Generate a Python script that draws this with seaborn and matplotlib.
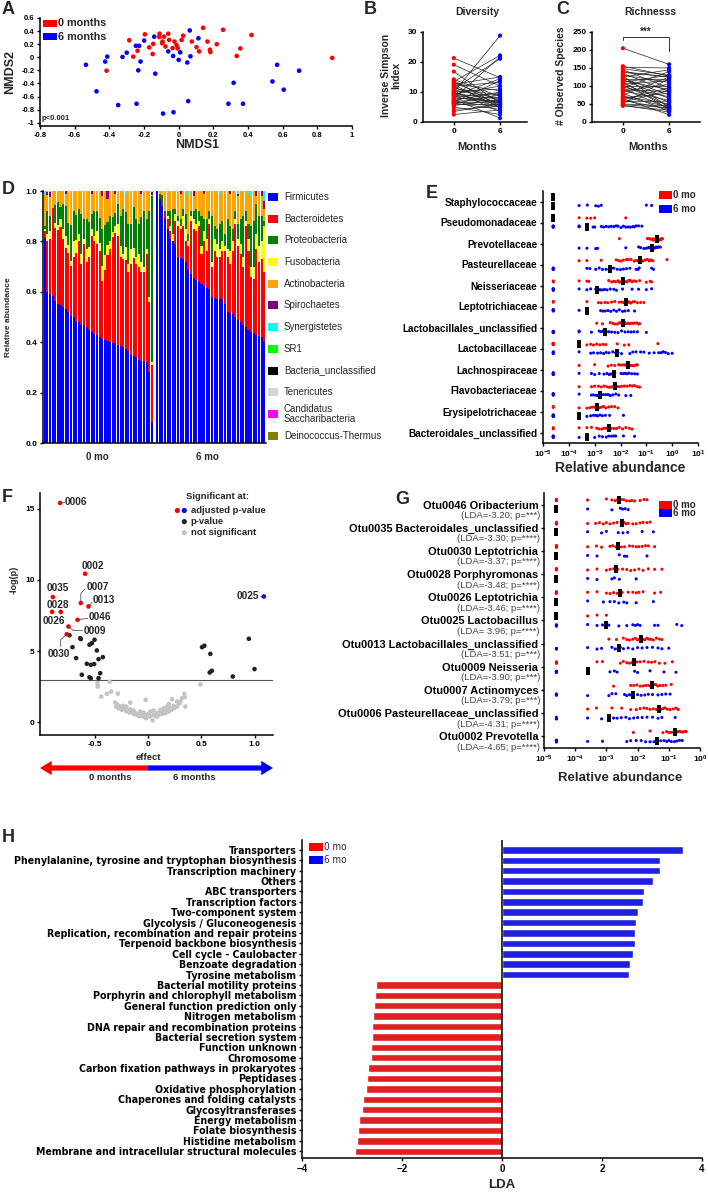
import numpy as np
import pandas as pd
import seaborn as sns
import matplotlib.pyplot as plt
from matplotlib.patches import Rectangle, FancyArrow
from matplotlib.ticker import NullLocator
from matplotlib import font_manager
import matplotlib.transforms as mtransforms

W, H = 708, 1195
RED, BLUE = '#FF0000', '#0000FF'

# ---------------- A: NMDS ordination ----------------
nmds1_0mo = [-0.285, -0.237, -0.262, -0.195, -0.17, -0.147, -0.15, -0.112, -0.11, -0.093,
             -0.084, -0.06, -0.076, -0.055, -0.035, -0.024, -0.012, -0.005, 0.026, 0.076,
             0.103, 0.118, 0.141, 0.166, 0.18, 0.183, 0.22, 0.256, 0.335, 0.356,
             0.42, -0.416, 0.886, -0.095, 0.017]
nmds2_0mo = [0.26, 0.10, 0.01, 0.35, 0.15, 0.205, 0.05, 0.31, 0.36, 0.24,
             0.315, 0.36, 0.165, 0.265, 0.14, 0.24, 0.185, 0.135, 0.33, 0.24,
             0.155, 0.09, 0.45, 0.24, 0.115, 0.08, 0.20, 0.42, 0.02, 0.135,
             0.34, -0.205, -0.01, 0.215, 0.265]
nmds1_6mo = [-0.535, -0.474, -0.424, -0.412, -0.349, -0.324, -0.30, -0.247, -0.228, -0.243,
             -0.233, -0.22, -0.199, -0.141, -0.135, -0.09, -0.06, -0.032, -0.03, 0.0,
             0.009, 0.05, 0.055, 0.064, 0.068, 0.114, 0.287, 0.317, 0.371, 0.541,
             0.568, 0.606, 0.695]
nmds2_6mo = [-0.115, -0.52, -0.065, 0.01, -0.73, 0.005, 0.07, 0.175, 0.175, -0.71,
             -0.2, -0.065, 0.255, 0.315, -0.25, -0.86, 0.09, 0.02, -0.84, -0.04,
             0.075, -0.08, -0.67, 0.41, 0.015, 0.29, -0.71, -0.39, -0.71, -0.37,
             -0.115, -0.495, -0.205]

# ---------------- B / C: paired alpha diversity ----------------
invsimpson_0mo = [21.3, 19.1, 16.8, 14.2, 13.8, 13.5, 13.1, 12.8, 12.4, 12.0, 11.6, 11.2, 11.0, 10.7,
                  10.4, 10.1, 9.9, 9.7, 9.5, 9.3, 9.1, 8.9, 8.6, 8.4, 8.1, 7.9, 7.7, 7.5, 7.2, 7.0,
                  6.8, 6.6, 6.5, 6.3, 6.1, 5.9, 5.5, 5.0, 4.2, 3.5, 2.5, 12.6]
invsimpson_6mo = [14.8, 12.0, 6.2, 8.5, 5.4, 22.2, 7.0, 10.4, 4.8, 13.2, 6.0, 9.0, 21.1, 8.0,
                  3.4, 11.0, 28.8, 5.6, 7.6, 12.0, 6.4, 14.4, 5.2, 9.5, 6.8, 21.7, 8.2, 1.3, 10.0, 7.2,
                  5.0, 13.8, 6.6, 4.2, 9.2, 5.8, 7.4, 2.5, 5.2, 6.0, 4.0, 15.0]
richness_0mo = [205, 155, 152, 148, 145, 140, 135, 130, 128, 125, 122, 120, 118, 115, 112, 110, 107,
                105, 102, 100, 97, 95, 92, 90, 87, 85, 80, 75, 72, 70, 67, 65, 62, 60, 57, 55, 52,
                50, 48, 46, 45, 138]
richness_6mo = [160, 128, 150, 130, 95, 125, 85, 110, 40, 145, 75, 120, 65, 90, 35, 130, 55, 115,
                45, 100, 70, 140, 38, 85, 60, 105, 30, 125, 50, 42, 80, 20, 95, 36, 58, 88, 120,
                45, 40, 28, 33, 125]

# ---------------- D: phylum composition per sample ----------------
phyla = ['Firmicutes', 'Bacteroidetes', 'Proteobacteria', 'Fusobacteria', 'Actinobacteria',
         'Spirochaetes', 'Synergistetes', 'SR1', 'Bacteria_unclassified', 'Tenericutes',
         'Candidatus\nSaccharibacteria', 'Deinococcus-Thermus']
phylum_colors = ['#0000FF', '#FF0000', '#008000', '#FFFF00', '#FFA500', '#800080',
                 '#00FFFF', '#00FF00', '#000000', '#D3D3D3', '#FF00FF', '#808000']
firm_0mo = [0.815, 0.60, 0.59, 0.583, 0.565, 0.55, 0.548, 0.54, 0.532, 0.52, 0.504, 0.50, 0.484, 0.48,
            0.47, 0.468, 0.46, 0.448, 0.44, 0.432, 0.43, 0.422, 0.411, 0.407, 0.406, 0.40, 0.398,
            0.397, 0.39, 0.385, 0.38, 0.372, 0.365, 0.35, 0.345, 0.34, 0.33, 0.327, 0.325, 0.32,
            0.28, 0.085]
bact_0mo = [0.025, 0.20, 0.22, 0.35, 0.29, 0.295, 0.31, 0.27, 0.24, 0.235, 0.20, 0.24, 0.27, 0.32,
            0.24, 0.32, 0.26, 0.29, 0.38, 0.37, 0.36, 0.34, 0.23, 0.28, 0.34, 0.37, 0.42, 0.435,
            0.43, 0.355, 0.35, 0.355, 0.315, 0.36, 0.39, 0.37, 0.37, 0.35, 0.355, 0.43, 0.28, 0.225]
fuso_0mo = [0.01, 0.03, 0.03, 0.0, 0.02, 0.02, 0.03, 0.04, 0.05, 0.03, 0.02, 0.06, 0.05, 0.03, 0.04,
            0.02, 0.05, 0.04, 0.03, 0.02, 0.05, 0.03, 0.06, 0.06, 0.04, 0.03, 0.02, 0.03, 0.05, 0.04,
            0.02, 0.05, 0.03, 0.06, 0.04, 0.03, 0.05, 0.04, 0.02, 0.02, 0.02, 0.01]
proteo_0mo = [0.01, 0.09, 0.06, 0.0, 0.07, 0.09, 0.05, 0.10, 0.12, 0.09, 0.14, 0.12, 0.10, 0.10,
              0.16, 0.08, 0.12, 0.10, 0.06, 0.10, 0.08, 0.10, 0.15, 0.12, 0.09, 0.10, 0.06, 0.05,
              0.08, 0.12, 0.18, 0.14, 0.16, 0.10, 0.16, 0.15, 0.12, 0.18, 0.22, 0.12, 0.34, 0.66]
spiro_0mo = [0, 0.01, 0.02, 0, 0, 0, 0, 0, 0.01, 0, 0, 0, 0, 0, 0, 0, 0, 0, 0.01, 0, 0, 0, 0.02, 0,
             0.03, 0, 0, 0.01, 0, 0, 0, 0, 0, 0, 0, 0, 0, 0.01, 0, 0, 0, 0.01]
synerg_0mo = [0.01, 0.005, 0.005, 0, 0, 0, 0, 0, 0, 0, 0, 0, 0, 0, 0, 0, 0, 0, 0, 0, 0, 0, 0, 0, 0,
              0, 0, 0, 0, 0, 0, 0.01, 0, 0, 0, 0, 0, 0, 0, 0, 0, 0.005]
firm_6mo = [1.0, 0.97, 0.94, 0.89, 0.85, 0.81, 0.80, 0.79, 0.74, 0.735, 0.73, 0.72, 0.69, 0.67, 0.655,
            0.645, 0.64, 0.63, 0.625, 0.615, 0.61, 0.58, 0.575, 0.57, 0.57, 0.57, 0.55, 0.52, 0.515,
            0.51, 0.50, 0.49, 0.48, 0.47, 0.46, 0.45, 0.44, 0.435, 0.43, 0.425, 0.42, 0.40]
bact_6mo = [0.0, 0.005, 0.005, 0.02, 0.04, 0.03, 0.0, 0.09, 0.12, 0.115, 0.13, 0.08, 0.09, 0.21,
            0.195, 0.195, 0.22, 0.12, 0.175, 0.145, 0.26, 0.12, 0.185, 0.17, 0.17, 0.19, 0.21, 0.22,
            0.195, 0.25, 0.37, 0.29, 0.27, 0.23, 0.40, 0.31, 0.22, 0.215, 0.34, 0.295, 0.31, 0.28]
fuso_6mo = [0, 0, 0, 0, 0.01, 0.02, 0.03, 0.03, 0.02, 0.01, 0.04, 0.05, 0.02, 0.02, 0.04, 0.03, 0.02,
            0.03, 0.04, 0.05, 0.02, 0.02, 0.05, 0.05, 0.03, 0.04, 0.02, 0.03, 0.05, 0.04, 0.02, 0.03,
            0.04, 0.04, 0.02, 0.05, 0.04, 0.05, 0.06, 0.06, 0.07, 0.18]
proteo_6mo = [0, 0.015, 0.04, 0.01, 0.02, 0.06, 0.10, 0.02, 0.02, 0.03, 0.03, 0.06, 0.03, 0.02, 0.03,
              0.06, 0.04, 0.12, 0.05, 0.08, 0.03, 0.18, 0.05, 0.06, 0.10, 0.08, 0.05, 0.12, 0.10,
              0.05, 0.03, 0.06, 0.10, 0.16, 0.04, 0.06, 0.16, 0.18, 0.12, 0.12, 0.10, 0.02]
spiro_6mo = [0, 0, 0, 0, 0, 0, 0, 0, 0, 0.01, 0, 0, 0, 0, 0.02, 0, 0, 0, 0.01, 0, 0, 0, 0, 0, 0, 0,
             0, 0, 0.01, 0, 0, 0.01, 0, 0, 0, 0, 0, 0, 0.02, 0, 0.02, 0.03]
synerg_6mo = [0, 0, 0, 0, 0, 0, 0, 0, 0, 0, 0, 0, 0.02, 0, 0, 0, 0, 0, 0, 0, 0, 0, 0, 0, 0.01, 0, 0,
              0, 0, 0, 0, 0.01, 0, 0, 0, 0.01, 0.02, 0, 0, 0, 0, 0.04]

# ---------------- E: family abundance (0 = below detection) ----------------
fam_taxa = ['Staphylococcaceae', 'Pseudomonadaceae', 'Prevotellaceae', 'Pasteurellaceae',
            'Neisseriaceae', 'Leptotrichiaceae', 'Lactobacillales_unclassified', 'Lactobacillaceae',
            'Lachnospiraceae', 'Flavobacteriaceae', 'Erysipelotrichaceae', 'Bacteroidales_unclassified']
fam_0mo = [
    [0] * 12,
    [0] * 10 + [2.5e-4, 5e-4, 7e-4, 1.0e-3, 1.6e-2],
    [9e-3, 0.11, 0.13, 0.15, 0.17, 0.19, 0.2, 0.21, 0.22, 0.23, 0.24, 0.25, 0.26, 0.27, 0.28, 0.29,
     0.3, 0.32, 0.34, 0.36, 0.38, 0.4, 0.42],
    [2.5e-4, 5e-4, 1.8e-3, 6.8e-3, 8.5e-3, 1.05e-2, 1.3e-2, 1.7e-2, 2e-2, 2.6e-2, 3.4e-2, 4e-2,
     4.8e-2, 5.5e-2, 6e-2, 6.5e-2, 7.5e-2, 9e-2, 0.11, 0.13, 0.15, 0.18, 0.63],
    [0] * 2 + [2.5e-4, 5e-4, 6e-4, 3.5e-3, 4.5e-3, 5.5e-3, 6.5e-3, 8e-3, 9e-3, 1.05e-2, 1.2e-2, 1.4e-2,
               1.6e-2, 1.8e-2, 2.1e-2, 2.4e-2, 2.8e-2, 3.3e-2, 4e-2, 5.5e-2, 0.1, 0.14, 0.16],
    [0] * 2 + [5e-4, 1.4e-3, 1.8e-3, 2.5e-3, 3.2e-3, 4.5e-3, 6e-3, 9e-3, 1.1e-2, 1.3e-2, 1.5e-2,
               1.6e-2, 1.8e-2, 2e-2, 2.2e-2, 2.5e-2, 3e-2, 3.5e-2, 4.5e-2, 6e-2, 8e-2],
    [1.2e-3, 2e-3, 4e-3, 5e-3, 6e-3, 7.5e-3, 9e-3, 1e-2, 1.15e-2, 1.3e-2, 1.45e-2, 1.6e-2, 1.9e-2,
     2.2e-2, 2.6e-2, 3e-2, 3.5e-2, 4.2e-2, 5e-2, 5.5e-2],
    [0] * 8 + [2.5e-4] * 4 + [5e-4, 7e-4, 9e-4, 1.2e-3, 1.6e-3, 2.1e-3, 2.7e-3, 7.5e-3, 1.4e-2,
                              2.1e-2, 0.28],
    [2.5e-4, 1e-3, 3.3e-3, 4.4e-3, 6e-3, 8.5e-3, 1.05e-2, 1.3e-2, 1.5e-2, 1.7e-2, 1.9e-2, 2.1e-2,
     2.4e-2, 2.8e-2, 3.3e-2, 4e-2, 4.5e-2],
    [2.5e-4, 7.5e-4, 1e-3, 1.4e-3, 1.8e-3, 2.3e-3, 3e-3, 3.6e-3, 4.4e-3, 5.2e-3, 6.4e-3, 7.5e-3, 9e-3,
     1.1e-2, 1.4e-2, 1.8e-2, 2.3e-2, 2.9e-2, 3.5e-2, 4.5e-2, 5.5e-2],
    [0] * 2 + [2.5e-4, 5e-4, 6.5e-4, 8e-4, 1e-3, 1.15e-3, 1.3e-3, 1.5e-3, 1.8e-3, 2.2e-3, 2.7e-3,
               3.5e-3, 4.5e-3, 6e-3, 8e-3],
    [0] * 2 + [2.5e-4, 5e-4, 7.5e-4, 1.2e-3, 1.5e-3, 1.9e-3, 2.3e-3, 2.8e-3, 3.6e-3, 4.4e-3, 5.5e-3,
               7e-3, 9e-3, 1.2e-2, 1.6e-2, 2.2e-2, 2.8e-2],
]
fam_6mo = [
    [0] * 10 + [2.5e-4, 5.2e-4, 1.1e-3, 1.4e-3, 1.8e-3, 0.10, 0.16],
    [0] * 8 + [2.5e-4] * 3 + [5e-4] * 3 + [8.7e-4, 1e-3, 1.8e-3, 2.2e-3, 2.8e-3, 3.5e-3, 4.4e-3, 5.5e-3,
                                          6.8e-3, 8e-3, 1.05e-2, 1.3e-2, 1.6e-2, 2e-2, 2.4e-2, 3e-2,
                                          3.4e-2, 4e-2, 5e-2, 6.7e-2],
    [2.5e-4, 5e-4, 1.1e-3, 1.3e-3, 1.6e-2, 5e-2, 6e-2, 8e-2, 0.1, 0.12, 0.13, 0.15, 0.16, 0.17, 0.19,
     0.21, 0.24, 0.27, 0.3, 0.35],
    [0] * 6 + [5e-4, 6.5e-4, 1.1e-3, 1.5e-3, 2e-3, 2.7e-3, 3.5e-3, 4e-3, 4.5e-3, 5.5e-3, 7.5e-3, 1e-2,
               1.3e-2, 1.7e-2, 2.3e-2, 4e-2, 4.8e-2, 5.3e-2, 0.16, 0.19],
    [0] * 6 + [2.5e-4, 5e-4, 7e-4, 1.1e-3, 1.3e-3, 1.5e-3, 1.7e-3, 2e-3, 2.4e-3, 3e-3, 4e-3, 5.5e-3,
               7e-3, 1.2e-2, 2.8e-2, 5e-2, 0.1, 0.16],
    [0] * 6 + [2.5e-4, 5e-4, 5e-4, 1.7e-3, 2.1e-3, 2.6e-3, 3.3e-3, 4.2e-3, 5.5e-3, 7e-3, 9e-3, 1.2e-2,
               1.5e-2, 2e-2, 3.5e-2],
    [0] * 6 + [2.5e-4, 2.5e-4, 7.5e-4, 1.5e-3, 1.8e-3, 2.1e-3, 2.4e-3, 2.8e-3, 3.5e-3, 4.5e-3, 6e-3,
               8e-3, 1.1e-2, 1.5e-2, 2e-2, 2.6e-2, 3.3e-2, 4.5e-2, 0.1],
    [0] * 5 + [2.5e-4, 7e-4, 9e-4, 1.3e-3, 1.7e-3, 2.2e-3, 2.8e-3, 3.6e-3, 5e-3, 6.5e-3, 8e-3, 1.1e-2,
               2.3e-2, 3e-2, 4e-2, 6e-2, 8e-2, 0.13, 0.2, 0.3, 0.38, 0.45, 0.55, 0.7, 1.0],
    [0] * 6 + [2.5e-4, 7.5e-4, 1e-3, 1.5e-3, 2.3e-3, 3e-3, 3.6e-3, 4.2e-3, 5e-3, 6e-3, 1.05e-2, 1.3e-2,
               1.5e-2, 1.8e-2, 2.1e-2, 2.7e-2, 3.5e-2, 4.5e-2],
    [0] * 6 + [2.5e-4, 7.5e-4, 9e-4, 1.1e-3, 1.3e-3, 1.55e-3, 1.8e-3, 2.2e-3, 2.7e-3, 3.3e-3, 4e-3,
               5e-3, 6.5e-3, 8.5e-3, 1.6e-2, 2.5e-2],
    [0] * 8 + [2.5e-4] * 4 + [5e-4, 7e-4, 9e-4, 1.1e-3, 1.3e-3, 1.6e-3, 2e-3, 2.6e-3, 3.8e-3, 1.3e-2],
    [0] * 6 + [2.5e-4, 5e-4, 5e-4, 1e-3, 1.5e-3, 2e-3, 2.8e-3, 3.5e-3, 4.5e-3, 5.5e-3, 6.5e-3, 1.3e-2,
               3.5e-2],
]
fam_median_0mo = [0, 0, 0.25, 0.059, 0.0123, 0.0166, 0.0123, 2.5e-4, 0.019, 6.4e-3, 1.26e-3, 3.6e-3]
fam_median_6mo = [0, 5e-4, 0.16, 3.8e-3, 1.26e-3, 5e-4, 2.5e-3, 7.4e-3, 5.4e-3, 1.55e-3, 2.5e-4, 5e-4]

# ---------------- F: volcano plot ----------------
adj_otus_0mo = ['0006', '0002', '0035', '0007', '0013', '0028', '0026', '0046', '0009', '0030']
adj_effect_0mo = [-0.822, -0.588, -0.89, -0.628, -0.556, -0.816, -0.897, -0.659, -0.744, -0.76]
adj_logp_0mo = [15.4, 10.43, 8.79, 8.37, 8.13, 7.75, 7.75, 7.19, 6.72, 6.18]
adj_otus_6mo = ['0025']
adj_effect_6mo = [1.084]
adj_logp_6mo = [8.83]
p_effect = [-0.634, -0.628, -0.734, -0.706, -0.672, -0.619, -0.572, -0.534, -0.503, -0.547, -0.525,
            -0.5, -0.478, -0.4625, -0.422, -0.447, -0.547, -0.534, -0.4625, 0.506, 0.528, 0.584,
            0.578, 0.597, 0.794, 0.944, 0.997]
p_logp = [5.90, 5.84, 6.11, 5.27, 4.50, 3.33, 4.10, 4.03, 4.08, 5.44, 5.55, 5.79, 5.04, 4.43, 4.57,
          3.44, 3.16, 3.09, 3.09, 5.27, 5.37, 4.8, 3.49, 3.61, 3.21, 5.86, 3.73]
ns_effect = [-0.472, -0.47, -0.359, -0.4375, -0.384, -0.344, -0.281, -0.306, -0.284, -0.259, -0.219,
             -0.19, -0.166, -0.15, -0.119, -0.0875, -0.056, -0.022, -0.025, 0.006, 0.044, 0.053,
             0.084, 0.116, 0.147, 0.178, 0.209, 0.225, 0.241, 0.272, 0.297, 0.319, 0.341, 0.344,
             0.35, 0.491, -0.244, -0.203, -0.172, -0.134, -0.103, -0.072, -0.041, -0.009, 0.022,
             0.069, 0.1, 0.131, 0.1625, 0.194, 0.219, 0.247, -0.234, -0.203, -0.166, -0.134, -0.072,
             -0.041, 0.022, 0.053, 0.116, 0.147, 0.178, 0.197, -0.297, -0.272, -0.084, -0.016, 0.084,
             0.272, 0.303]
ns_logp = [2.74, 2.5, 2.84, 1.80, 1.99, 2.15, 2.01, 1.38, 1.22, 1.10, 0.98, 0.82, 1.38, 0.75, 0.63,
           0.58, 0.56, 1.57, 0.51, 0.58, 0.12, 0.51, 0.63, 0.68, 0.75, 0.87, 0.98, 1.62, 1.15, 1.45,
           1.33, 1.69, 1.99, 1.76, 1.10, 2.65, 0.87, 0.75, 0.68, 0.58, 0.51, 0.44, 0.40, 0.44, 0.40,
           0.44, 0.51, 0.58, 0.63, 0.75, 0.87, 0.98, 1.15, 1.10, 0.91, 0.82, 0.75, 0.68, 0.75, 0.82,
           0.87, 0.98, 1.10, 1.29, 1.10, 0.96, 0.44, 0.28, 0.40, 1.10, 1.45]
p_threshold = 2.95

# ---------------- G: OTU abundance ----------------
otu_taxa = ['Otu0046 Oribacterium', 'Otu0035 Bacteroidales_unclassified', 'Otu0030 Leptotrichia',
            'Otu0028 Porphyromonas', 'Otu0026 Leptotrichia', 'Otu0025 Lactobacillus',
            'Otu0013 Lactobacillales_unclassified', 'Otu0009 Neisseria', 'Otu0007 Actinomyces',
            'Otu0006 Pasteurellaceae_unclassified', 'Otu0002 Prevotella']
otu_lda = [-3.20, -3.30, -3.37, -3.48, -3.46, 3.96, -3.51, -3.90, -3.79, -4.31, -4.65]
otu_pstars = ['***', '****', '****', '****', '****', '****', '***', '***', '***', '****', '****']
otu_0mo = [
    [0] * 6 + [2.5e-4, 1e-3, 1.5e-3, 1.9e-3, 2.2e-3, 2.6e-3, 3e-3, 3.6e-3, 4.4e-3, 5.5e-3, 6.5e-3, 8e-3,
               1.2e-2, 1.6e-2, 2e-2],
    [0] * 6 + [2.5e-4, 4.5e-4, 6e-4, 8e-4, 1e-3, 1.3e-3, 1.7e-3, 2.2e-3, 3.1e-3, 3.6e-3, 4.2e-3, 5e-3,
               7e-3, 9e-3, 1.2e-2, 1.5e-2, 2e-2, 2.5e-2],
    [0] * 6 + [2.5e-4, 4.8e-4, 7e-4, 1.3e-3, 1.6e-3, 2e-3, 2.4e-3, 3e-3, 3.8e-3, 5.5e-3, 7e-3, 9e-3,
               1.1e-2, 1.4e-2, 1.8e-2, 2.2e-2, 3.5e-2],
    [0] * 6 + [2.5e-4, 5e-4, 1e-3, 1.3e-3, 1.7e-3, 2e-3, 2.3e-3, 3.3e-3, 4.5e-3, 6e-3, 8e-3, 1.1e-2,
               1.5e-2, 2.2e-2, 3.5e-2, 6e-2],
    [0] * 6 + [2.5e-4, 5e-4, 1e-3, 1.3e-3, 1.7e-3, 2.2e-3, 2.8e-3, 3.2e-3, 5e-3, 7e-3, 9e-3, 1.1e-2,
               1.5e-2, 3.5e-2, 5.5e-2],
    [0] * 12 + [2.5e-4, 5e-4, 1e-3],
    [1.2e-3, 2.1e-3, 3.5e-3, 4.5e-3, 5.5e-3, 7e-3, 8.5e-3, 1e-2, 1.15e-2, 1.3e-2, 1.5e-2, 1.7e-2, 2e-2,
     2.3e-2, 2.7e-2, 3.2e-2, 4e-2, 5e-2, 6e-2],
    [0] * 4 + [5e-4, 7.5e-4, 2.8e-3, 3.5e-3, 4.5e-3, 5.5e-3, 6.5e-3, 7.9e-3, 9.5e-3, 1.2e-2, 1.6e-2,
               2.2e-2, 2.8e-2, 3.6e-2, 5e-2, 7.5e-2, 0.13],
    [1.7e-3, 6e-3, 7.5e-3, 9.5e-3, 1.2e-2, 1.5e-2, 1.8e-2, 2.2e-2, 2.6e-2, 3e-2, 3.3e-2, 3.8e-2, 4.4e-2,
     5.2e-2, 6.5e-2, 8e-2, 0.12],
    [2.5e-4, 4.8e-4, 1.5e-3, 3.1e-3, 6e-3, 9e-3, 1.2e-2, 1.6e-2, 2e-2, 2.5e-2, 3.2e-2, 4e-2, 4.6e-2,
     5e-2, 5.5e-2, 6.5e-2, 7.5e-2, 9e-2, 0.11, 0.14, 0.17, 0.2],
    [7.3e-3, 2.5e-2, 6.5e-2, 8.5e-2, 0.1, 0.12, 0.14, 0.16, 0.18, 0.2, 0.22, 0.25, 0.28, 0.32, 0.36],
]
otu_6mo = [
    [0] * 10 + [2.5e-4, 1.5e-3, 2.8e-3, 3.3e-3, 4e-3, 5e-3],
    [0] * 10 + [2.5e-4, 7e-4, 1e-3, 2.4e-3, 3.4e-3, 4.8e-3, 1.4e-2, 3.2e-2],
    [0] * 10 + [2.5e-4, 5e-4, 2.6e-3, 3.8e-3, 4.5e-3, 2e-2],
    [0] * 10 + [2.5e-4, 5e-4, 1.5e-3, 1.8e-3, 2.6e-3, 9e-3],
    [0] * 10 + [2.5e-4, 8e-4, 1.3e-3, 1.8e-3, 2.5e-3, 3.6e-3, 4.5e-3, 9e-3, 3.2e-2],
    [0] * 5 + [2.5e-4, 5e-4, 7.5e-4, 1e-3, 1e-3, 1.2e-3, 2.5e-3, 4.5e-3, 7e-3, 8.5e-3, 1e-2, 1.2e-2,
               3.5e-2, 4.5e-2, 0.18, 0.26],
    [0] * 5 + [2.5e-4, 5e-4, 7e-4, 1.5e-3, 1.9e-3, 2.3e-3, 2.5e-3, 2.8e-3, 3.5e-3, 5e-3, 7e-3, 1e-2,
               1.4e-2, 2e-2, 3e-2, 4.5e-2, 6e-2, 0.1],
    [0] * 8 + [2.5e-4] * 3 + [1.3e-3, 1.8e-3, 2.2e-3, 8e-3, 1e-2, 2.5e-2, 7e-2, 0.17],
    [0] * 5 + [2.5e-4, 1.2e-3, 1.5e-3, 2e-3, 3.8e-3, 4.5e-3, 5.5e-3, 6.5e-3, 7.2e-3, 1e-2, 1.3e-2,
               1.7e-2, 2.2e-2, 3e-2, 4.5e-2, 6e-2, 8e-2, 0.11],
    [0] * 5 + [2.5e-4, 7e-4, 1.25e-3, 1.25e-3, 1.7e-3, 2.2e-3, 3e-3, 4.2e-3, 5.5e-3, 7.5e-3, 1e-2,
               1.4e-2, 2e-2, 3e-2, 4.5e-2, 6e-2, 0.16],
    [0] * 5 + [2.5e-4, 7.5e-4, 4.5e-3, 6e-3, 9e-3, 1.3e-2, 1.8e-2, 2.5e-2, 3.3e-2, 4.3e-2, 5.5e-2, 7e-2,
               8.5e-2, 0.1, 0.12, 0.15, 0.18, 0.22, 0.27],
]
otu_median_0mo = [2.5e-3, 3.1e-3, 2.4e-3, 2.0e-3, 2.8e-3, 0, 1.26e-2, 7.9e-3, 3e-2, 5e-2, 0.16]
otu_median_6mo = [0, 0, 0, 0, 0, 1e-3, 2.5e-3, 2.5e-4, 7.2e-3, 1.25e-3, 4.3e-2]

# ---------------- H: pathway LDA ----------------
pathways = ['Transporters', 'Phenylalanine, tyrosine and tryptophan biosynthesis',
            'Transcription machinery', 'Others', 'ABC transporters', 'Transcription factors',
            'Two-component system', 'Glycolysis / Gluconeogenesis',
            'Replication, recombination and repair proteins', 'Terpenoid backbone biosynthesis',
            'Cell cycle - Caulobacter', 'Benzoate degradation', 'Tyrosine metabolism',
            'Bacterial motility proteins', 'Porphyrin and chlorophyll metabolism',
            'General function prediction only', 'Nitrogen metabolism',
            'DNA repair and recombination proteins', 'Bacterial secretion system',
            'Function unknown', 'Chromosome', 'Carbon fixation pathways in prokaryotes',
            'Peptidases', 'Oxidative phosphorylation', 'Chaperones and folding catalysts',
            'Glycosyltransferases', 'Energy metabolism', 'Folate biosynthesis',
            'Histidine metabolism', 'Membrane and intracellular structural molecules']
pathway_lda = [3.62, 3.15, 3.15, 3.02, 2.84, 2.81, 2.72, 2.68, 2.66, 2.65, 2.61, 2.55, 2.54,
               -2.52, -2.55, -2.57, -2.59, -2.60, -2.60, -2.62, -2.63, -2.68, -2.70, -2.73,
               -2.79, -2.81, -2.87, -2.89, -2.90, -2.95]

# ======================= drawing =======================
sns.set_theme(style='ticks')
plt.rcParams['font.family'] = ['Liberation Sans', 'DejaVu Sans']
plt.rcParams.update({
    'font.weight': 'bold', 'axes.labelweight': 'bold', 'axes.linewidth': 1.1,
    'xtick.major.width': 1.0, 'ytick.major.width': 1.0,
    'xtick.major.size': 2.5, 'ytick.major.size': 2.5,
    'xtick.major.pad': 1.5, 'ytick.major.pad': 1.5,
    'xtick.color': 'black', 'ytick.color': 'black', 'axes.edgecolor': 'black',
    'mathtext.fontset': 'custom', 'mathtext.rm': 'Liberation Sans',
    'mathtext.bf': 'Liberation Sans:bold', 'mathtext.default': 'bf',
})
np.random.seed(3)

# condensed face for the pathway names, if one is installed
_fonts = font_manager.fontManager.ttflist
if any(f.name == 'Liberation Sans Narrow' for f in _fonts):
    NARROW = dict(family=['Liberation Sans Narrow', 'Liberation Sans'], size=9.2)
elif any(f.name == 'DejaVu Sans' and f.stretch == 'condensed' for f in _fonts):
    NARROW = dict(family=['DejaVu Sans'], stretch='condensed', size=7.6)
else:
    NARROW = dict(family=['Liberation Sans'], size=8)

fig = plt.figure(figsize=(W / 100, H / 100), dpi=100)


def px_axes(l, t, r, b):
    return fig.add_axes([l / W, 1 - b / H, (r - l) / W, (b - t) / H])


def ftext(x, y, s, **kw):
    kw.setdefault('ha', 'center')
    kw.setdefault('va', 'center')
    return fig.text(x / W, 1 - y / H, s, **kw)


def clean(ax, fs=6):
    sns.despine(ax=ax)
    ax.tick_params(labelsize=fs, direction='out')
    for lab in ax.get_xticklabels() + ax.get_yticklabels():
        lab.set_fontweight('bold')


def fig_rect(x0, y0, x1, y1, color):
    fig.patches.append(Rectangle((x0 / W, 1 - y1 / H), (x1 - x0) / W, (y1 - y0) / H,
                                 transform=fig.transFigure, color=color, lw=0))


for letter, x, y in [('A', 2, 10), ('B', 364, 10), ('C', 556, 10), ('D', 2, 190), ('E', 426, 193),
                     ('F', 2, 498), ('G', 395, 499), ('H', 2, 838)]:
    ftext(x, y, letter, ha='left', fontsize=13)

# ---- A ----
axA = px_axes(40, 18, 352, 126)
dfA = pd.DataFrame({'NMDS1': nmds1_0mo + nmds1_6mo, 'NMDS2': nmds2_0mo + nmds2_6mo,
                    'group': ['0 months'] * len(nmds1_0mo) + ['6 months'] * len(nmds1_6mo)})
sns.scatterplot(data=dfA, x='NMDS1', y='NMDS2', hue='group', palette={'0 months': RED, '6 months': BLUE},
                s=11, edgecolor='none', legend=False, ax=axA)
axA.set_xlim(-0.8, 1.0)
axA.set_ylim(-1.05, 0.6)
axA.set_xticks(np.round(np.arange(-0.8, 1.01, 0.2), 1))
axA.set_xticklabels(['-0.8', '-0.6', '-0.4', '-0.2', '0', '0.2', '0.4', '0.6', '0.8', '1'])
axA.set_yticks(np.round(np.arange(-1.0, 0.61, 0.2), 1))
axA.set_yticklabels(['-1', '-0.8', '-0.6', '-0.4', '-0.2', '0', '0.2', '0.4', '0.6'])
axA.set_xlabel('')
axA.set_ylabel('')
clean(axA, 5.5)
ftext(197, 145, 'NMDS1', fontsize=9)
ftext(10, 72, 'NMDS2', fontsize=9, rotation=90)
ftext(42, 118, 'p<0.001', ha='left', fontsize=5.5)
fig_rect(43, 20, 57, 27, RED)
fig_rect(43, 33, 57, 40, BLUE)
ftext(58, 23.5, '0 months', ha='left', fontsize=7.8)
ftext(58, 36.5, '6 months', ha='left', fontsize=7.8)


# ---- B, C ----
def paired_panel(box, v0, v6, xlim, ylim, yticks):
    ax = px_axes(*box)
    n = len(v0)
    df = pd.DataFrame({'subject': list(range(n)) * 2, 'month': [0] * n + [6] * n, 'value': v0 + v6})
    sns.lineplot(data=df, x='month', y='value', units='subject', estimator=None, color='#222222',
                 linewidth=0.5, ax=ax)
    sns.scatterplot(data=df, x='month', y='value', hue='month', palette={0: RED, 6: BLUE}, s=9,
                    edgecolor='none', legend=False, zorder=3, clip_on=False, ax=ax)
    ax.set_xlim(*xlim)
    ax.set_ylim(*ylim)
    ax.set_xticks([0, 6])
    ax.set_yticks(yticks)
    ax.set_xlabel('')
    ax.set_ylabel('')
    clean(ax, 6)
    return ax


axB = paired_panel((423, 32, 527, 122), invsimpson_0mo, invsimpson_6mo, (-4, 9.5), (0, 30), [0, 10, 20, 30])
ftext(477, 12, 'Diversity', fontsize=7.5)
ftext(391, 75, 'Inverse Simpson\nIndex', fontsize=7.5, rotation=90, linespacing=1.0)
ftext(477, 147, 'Months', fontsize=8)

axC = paired_panel((592, 32, 700, 122), richness_0mo, richness_6mo, (-4, 10), (0, 250),
                   [0, 50, 100, 150, 200, 250])
axC.plot([0, 0, 6, 6], [229, 237, 237, 198], color='#333333', lw=0.7)
axC.text(3, 236, '***', ha='center', va='bottom', fontsize=7)
ftext(650, 12, 'Richnesss', fontsize=7.5)
ftext(561, 76, '# Observed Species', fontsize=7.5, rotation=90)
ftext(648, 147, 'Months', fontsize=8)

# ---- D ----
axD = px_axes(43, 191, 266, 443)
slots = np.array(list(range(42)) + list(range(43, 85)))
firm = np.array(firm_0mo + firm_6mo)
bact = np.array(bact_0mo + bact_6mo)
fuso = np.array(fuso_0mo + fuso_6mo)
proteo = np.array(proteo_0mo + proteo_6mo)
spiro = np.array(spiro_0mo + spiro_6mo)
synerg = np.array(synerg_0mo + synerg_6mo)
actino = np.clip(1 - (firm + bact + fuso + proteo + spiro + synerg), 0, None)  # remainder of the composition
cmap = dict(zip(phyla, phylum_colors))
bottom = np.zeros(len(slots))
for name, vals in [('Firmicutes', firm), ('Bacteroidetes', bact), ('Fusobacteria', fuso),
                   ('Proteobacteria', proteo), ('Actinobacteria', actino), ('Spirochaetes', spiro),
                   ('Synergistetes', synerg)]:
    axD.bar(slots, vals, bottom=bottom, width=0.8, color=cmap[name], linewidth=0)
    bottom += vals
axD.set_xlim(-0.7, 84.7)
axD.set_ylim(0, 1.0)
axD.set_yticks(np.round(np.arange(0, 1.01, 0.2), 1))
axD.set_yticklabels(['0.0', '0.2', '0.4', '0.6', '0.8', '1.0'])
axD.set_xticks([])
clean(axD, 6)
ftext(9, 317, 'Relative abundance', fontsize=6, rotation=90)
ftext(97, 457, '0 mo', fontsize=7)
ftext(207, 457, '6 mo', fontsize=7)
for i, (name, col) in enumerate(zip(phyla, phylum_colors)):
    yc = 197 + i * 21.7
    fig_rect(268, yc - 4, 278, yc + 4, col)
    ftext(284, yc, name, ha='left', fontsize=7, fontweight='normal', linespacing=0.95)


# ---- E, G strip panels ----
def strip_panel(box, taxa, vals0, vals6, med0, med6, xmax, fs_lab):
    ax = px_axes(*box)
    floor = 2.5e-5  # plotting position for samples below detection
    rows = []
    for t, v0, v6 in zip(taxa, vals0, vals6):
        rows += [(t, '0 mo', v if v > 0 else floor) for v in v0]
        rows += [(t, '6 mo', v if v > 0 else floor) for v in v6]
    df = pd.DataFrame(rows, columns=['taxon', 'group', 'abundance'])
    sns.stripplot(data=df, x='abundance', y='taxon', hue='group', order=taxa, hue_order=['0 mo', '6 mo'],
                  palette={'0 mo': RED, '6 mo': BLUE}, dodge=True, jitter=0.09, size=2.2, linewidth=0,
                  log_scale=True, legend=False, ax=ax)
    pos = np.arange(len(taxa))
    for meds, off in [(med0, -0.2), (med6, 0.2)]:
        ax.scatter([m if m > 0 else floor for m in meds], pos + off, marker='|', s=40, linewidths=2.8,
                   color='black', zorder=5)
    ax.set_xlim(1e-5, xmax)
    ax.set_ylim(len(taxa) - 0.5, -0.5)
    decades = list(range(-5, int(round(np.log10(xmax))) + 1))
    ax.set_xticks([10.0 ** d for d in decades])
    ax.set_xticklabels(['$10^{%d}$' % d for d in decades])
    ax.xaxis.set_minor_locator(NullLocator())
    ax.set_xlabel('')
    ax.set_ylabel('')
    clean(ax, 6)
    ax.tick_params(axis='y', labelsize=fs_lab)
    return ax


axE = strip_panel((543, 191, 698, 443), fam_taxa, fam_0mo, fam_6mo, fam_median_0mo, fam_median_6mo,
                  10, 7.2)
ftext(620, 468, 'Relative abundance', fontsize=10)
fig_rect(659, 191, 672, 199, RED)
fig_rect(659, 205, 672, 213, BLUE)
ftext(673, 195, '0 mo', ha='left', fontsize=7)
ftext(673, 209, '6 mo', ha='left', fontsize=7)

axG = strip_panel((544, 493, 700, 748), otu_taxa, otu_0mo, otu_6mo, otu_median_0mo, otu_median_6mo,
                  1, 7.9)
trans = mtransforms.blended_transform_factory(axG.transAxes, axG.transData)
for i, (lda, stars) in enumerate(zip(otu_lda, otu_pstars)):
    axG.text(-0.025, i + 0.47, '(LDA=%5.2f; p=%s)' % (lda, stars), transform=trans, ha='right',
             va='center', fontsize=6.8, fontweight='normal', color='#444444')
ftext(620, 778, 'Relative abundance', fontsize=9.5)
fig_rect(659, 501, 672, 509, RED)
fig_rect(659, 509, 672, 517, BLUE)
ftext(673, 505, '0 mo', ha='left', fontsize=7)
ftext(673, 513, '6 mo', ha='left', fontsize=7)

# ---- F ----
axF = px_axes(40, 493, 273, 735)
dfF = pd.DataFrame({
    'effect': ns_effect + p_effect + adj_effect_0mo + adj_effect_6mo,
    'logp': ns_logp + p_logp + adj_logp_0mo + adj_logp_6mo,
    'sig': ['ns'] * len(ns_effect) + ['p'] * len(p_effect) + ['adj0'] * len(adj_effect_0mo)
           + ['adj6'] * len(adj_effect_6mo)})
sns.scatterplot(data=dfF, x='effect', y='logp', hue='sig',
                palette={'ns': '#C4C4C4', 'p': '#222222', 'adj0': RED, 'adj6': BLUE},
                s=11, edgecolor='none', legend=False, ax=axF)
axF.axhline(p_threshold, color='#555555', lw=0.8, zorder=0)
axF.set_xlim(-1.01, 1.17)
axF.set_ylim(-0.9, 16.1)
axF.set_xticks([-0.5, 0, 0.5, 1.0])
axF.set_xticklabels(['-0.5', '0', '0.5', '1.0'])
axF.set_yticks([0, 5, 10, 15])
axF.set_xlabel('')
axF.set_ylabel('')
clean(axF, 6)
ftext(14, 580, '-log(p)', fontsize=6.5, rotation=90)

label_pos = {'0006': (-0.775, 15.44, 'left'), '0002': (-0.619, 10.99, 'left'),
             '0035': (-0.947, 9.42, 'left'), '0007': (-0.572, 9.49, 'left'),
             '0013': (-0.516, 8.55, 'left'), '0028': (-0.947, 8.25, 'left'),
             '0026': (-0.984, 7.08, 'left'), '0046': (-0.556, 7.38, 'left'),
             '0009': (-0.603, 6.42, 'left'), '0030': (-0.94, 4.8, 'left'),
             '0025': (1.04, 8.83, 'right')}
for otu, (x, y, ha) in label_pos.items():
    axF.text(x, y, otu, ha=ha, va='center', fontsize=7.2)
leaders = [[(-0.628, 8.45), (-0.628, 9.05), (-0.59, 9.35)],
           [(-0.744, 6.72), (-0.697, 6.44), (-0.61, 6.42)],
           [(-0.76, 6.18), (-0.816, 5.8), (-0.816, 5.3)],
           [(-0.659, 7.19), (-0.565, 7.3)],
           [(-0.556, 8.13), (-0.525, 8.4)],
           [(-0.822, 15.4), (-0.78, 15.42)],
           [(1.084, 8.83), (1.045, 8.83)]]
for pts in leaders:
    xs, ys = zip(*pts)
    axF.plot(xs, ys, color='#333333', lw=0.5, zorder=1)
axF.text(0.65, 15.84, 'Significant at:', ha='center', va='center', fontsize=6.8)
for x, y, c in [(0.275, 14.87, RED), (0.34, 14.87, BLUE), (0.34, 14.09, '#222222'), (0.34, 13.31, '#C4C4C4')]:
    axF.scatter([x], [y], s=14, color=c, edgecolor='none', clip_on=False)
for y, s in [(14.87, 'adjusted p-value'), (14.09, 'p-value'), (13.31, 'not significant')]:
    axF.text(0.40, y, s, ha='left', va='center', fontsize=6.8)

axArrow = px_axes(40, 755, 273, 781)
axArrow.set_xlim(-1.01, 1.17)
axArrow.set_ylim(0, 1)
axArrow.axis('off')
axArrow.add_patch(FancyArrow(0, 0.5, -1.01, 0, width=0.2, head_width=0.55, head_length=0.11,
                             length_includes_head=True, color=RED, lw=0))
axArrow.add_patch(FancyArrow(0, 0.5, 1.17, 0, width=0.2, head_width=0.55, head_length=0.11,
                             length_includes_head=True, color=BLUE, lw=0))
ftext(148, 758, 'effect', fontsize=6.8)
ftext(110, 778, '0 months', fontsize=6.8)
ftext(194, 778, '6 months', fontsize=6.8)

# ---- H ----
axH = px_axes(302, 840, 702, 1158)
dfH = pd.DataFrame({'pathway': pathways, 'LDA': pathway_lda,
                    'group': ['6 mo' if v > 0 else '0 mo' for v in pathway_lda]})
sns.barplot(data=dfH, x='LDA', y='pathway', hue='group', order=pathways,
            palette={'0 mo': RED, '6 mo': BLUE}, dodge=False, width=0.72, errorbar=None,
            legend=False, ax=axH)
axH.axvline(0, color='black', lw=1.1)
axH.set_xlim(-4, 4)
axH.set_ylim(len(pathways) - 0.35, -0.95)
axH.set_xticks([-4, -2, 0, 2, 4])
axH.set_xlabel('')
axH.set_ylabel('')
clean(axH, 7)
for lab in axH.get_yticklabels():
    lab.set_fontfamily(NARROW['family'])
    lab.set_fontsize(NARROW['size'])
    if 'stretch' in NARROW:
        lab.set_fontstretch(NARROW['stretch'])
    lab.set_fontweight('bold')
ftext(502, 1185, 'LDA', fontsize=9.5)
fig_rect(309, 843, 323, 851, RED)
fig_rect(309, 856, 323, 864, BLUE)
for yy, s in [(847, '0 mo'), (860, '6 mo')]:
    t = ftext(324, yy, s, ha='left', fontsize=NARROW['size'] - 0.5, fontweight='normal',
              family=NARROW['family'])
    if 'stretch' in NARROW:
        t.set_fontstretch(NARROW['stretch'])

fig.savefig('out.png', dpi=100)
